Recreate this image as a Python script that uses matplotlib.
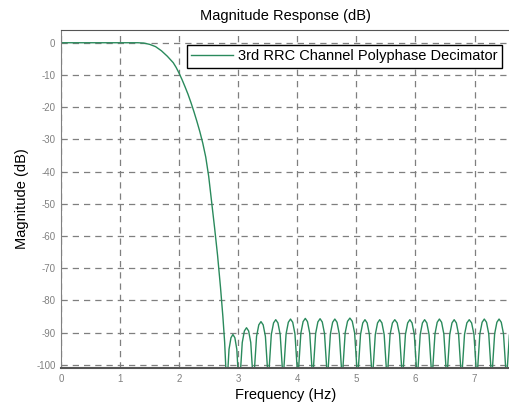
import matplotlib
matplotlib.use("Agg")
import matplotlib.pyplot as plt

plt.rcParams['font.family'] = ['Liberation Sans', 'DejaVu Sans']
plt.rcParams['axes.unicode_minus'] = False

# passband + transition band (Hz, dB)
pass_f = [0.0, 1.0, 1.3, 1.4, 1.5, 1.6, 1.7, 1.8, 1.9, 1.95, 2.0, 2.05, 2.1,
          2.15, 2.2, 2.25, 2.3, 2.35, 2.4, 2.45, 2.5, 2.55, 2.6, 2.65, 2.7,
          2.74, 2.77, 2.79, 2.80]
pass_db = [0.0, 0.0, 0.0, -0.1, -0.5, -1.2, -2.5, -4.2, -6.2, -7.7, -9.5,
           -11.5, -13.7, -16.0, -18.6, -21.4, -24.4, -27.6, -31.2, -35.5,
           -41.5, -49.5, -57.5, -66.0, -76.0, -85.0, -93.0, -101.0, -115.0]

# stopband lobes, one row per lobe
stop_f = [
    [2.813, 2.844, 2.877, 2.91, 2.943, 2.976, 3.007, 3.02],
    [3.034, 3.068, 3.104, 3.14, 3.176, 3.212, 3.246, 3.26],
    [3.275, 3.31, 3.348, 3.385, 3.422, 3.46, 3.495, 3.51],
    [3.525, 3.56, 3.598, 3.635, 3.672, 3.71, 3.745, 3.76],
    [3.775, 3.81, 3.848, 3.885, 3.922, 3.96, 3.995, 4.01],
    [4.025, 4.06, 4.098, 4.135, 4.172, 4.21, 4.245, 4.26],
    [4.275, 4.31, 4.348, 4.385, 4.422, 4.46, 4.495, 4.51],
    [4.525, 4.56, 4.598, 4.635, 4.672, 4.71, 4.745, 4.76],
    [4.775, 4.81, 4.85, 4.89, 4.93, 4.97, 5.005, 5.02],
    [5.035, 5.07, 5.108, 5.145, 5.182, 5.22, 5.255, 5.27],
    [5.285, 5.32, 5.358, 5.395, 5.432, 5.47, 5.505, 5.52],
    [5.535, 5.57, 5.61, 5.65, 5.69, 5.73, 5.765, 5.78],
    [5.795, 5.83, 5.868, 5.905, 5.942, 5.98, 6.015, 6.03],
    [6.045, 6.08, 6.118, 6.155, 6.192, 6.23, 6.265, 6.28],
    [6.295, 6.33, 6.368, 6.405, 6.442, 6.48, 6.515, 6.53],
    [6.545, 6.58, 6.618, 6.655, 6.692, 6.73, 6.765, 6.78],
    [6.795, 6.83, 6.87, 6.91, 6.95, 6.99, 7.025, 7.04],
    [7.055, 7.09, 7.128, 7.165, 7.202, 7.24, 7.275, 7.29],
    [7.305, 7.34, 7.378, 7.415, 7.452, 7.49, 7.525, 7.54],
    [7.555, 7.59, 7.63, 7.665],
]
stop_db = [
    [-105.2, -95.2, -91.6, -90.6, -91.6, -95.2, -105.2, -115],
    [-103.1, -93.1, -89.5, -88.5, -89.5, -93.1, -103.1, -115],
    [-101.2, -91.2, -87.6, -86.6, -87.6, -91.2, -101.2, -115],
    [-100.6, -90.6, -87.0, -86.0, -87.0, -90.6, -100.6, -115],
    [-100.4, -90.4, -86.8, -85.8, -86.8, -90.4, -100.4, -115],
    [-100.2, -90.2, -86.6, -85.6, -86.6, -90.2, -100.2, -115],
    [-100.3, -90.3, -86.7, -85.7, -86.7, -90.3, -100.3, -115],
    [-100.4, -90.4, -86.8, -85.8, -86.8, -90.4, -100.4, -115],
    [-100.1, -90.1, -86.5, -85.5, -86.5, -90.1, -100.1, -115],
    [-100.6, -90.6, -87.0, -86.0, -87.0, -90.6, -100.6, -115],
    [-100.6, -90.6, -87.0, -86.0, -87.0, -90.6, -100.6, -115],
    [-100.6, -90.6, -87.0, -86.0, -87.0, -90.6, -100.6, -115],
    [-100.6, -90.6, -87.0, -86.0, -87.0, -90.6, -100.6, -115],
    [-100.6, -90.6, -87.0, -86.0, -87.0, -90.6, -100.6, -115],
    [-100.4, -90.4, -86.8, -85.8, -86.8, -90.4, -100.4, -115],
    [-100.6, -90.6, -87.0, -86.0, -87.0, -90.6, -100.6, -115],
    [-100.6, -90.6, -87.0, -86.0, -87.0, -90.6, -100.6, -115],
    [-100.4, -90.4, -86.8, -85.8, -86.8, -90.4, -100.4, -115],
    [-100.4, -90.4, -86.8, -85.8, -86.8, -90.4, -100.4, -115],
    [-100.8, -90.8, -87.0, -86.0],
]

x_ticks = [0, 1, 2, 3, 4, 5, 6, 7]
y_ticks = [0, -10, -20, -30, -40, -50, -60, -70, -80, -90, -100]

freq = list(pass_f)
mag = list(pass_db)
for fr, db in zip(stop_f, stop_db):
    freq += fr
    mag += db

fig = plt.figure(figsize=(5.1, 4.04), dpi=100)
ax = fig.add_axes([0.1196, 0.0891, 0.8804, 0.837])

ax.plot(freq, mag, color='#2a8a5c', lw=1.0,
        label='3rd RRC Channel Polyphase Decimator')

ax.set_xlim(0, 7.6)
ax.set_ylim(-101, 4)
ax.set_xticks(x_ticks)
ax.set_yticks(y_ticks)
ax.grid(True, color='#7f7f7f', linestyle=(0, (5, 4)), lw=0.9)
ax.tick_params(length=0, labelsize=7, colors='#808080', pad=4)

ax.spines['right'].set_visible(False)
ax.spines['top'].set_color('#555555')
ax.spines['left'].set_color('#808080')
ax.spines['bottom'].set_color('#555555')
ax.spines['bottom'].set_linewidth(1.5)

ax.set_title('Magnitude Response (dB)', fontsize=10.5, pad=7)
ax.set_xlabel('Frequency (Hz)', fontsize=10.5, labelpad=3)
ax.set_ylabel('Magnitude (dB)', fontsize=10.5, labelpad=5)

leg = ax.legend(loc='upper right', bbox_to_anchor=(0.983, 0.955),
                fontsize=10.5, fancybox=False, framealpha=1,
                edgecolor='black', handlelength=2.9, handletextpad=0.35,
                borderpad=0.3, borderaxespad=0)
leg.get_frame().set_linewidth(1.0)

fig.savefig('out.png', dpi=100)
